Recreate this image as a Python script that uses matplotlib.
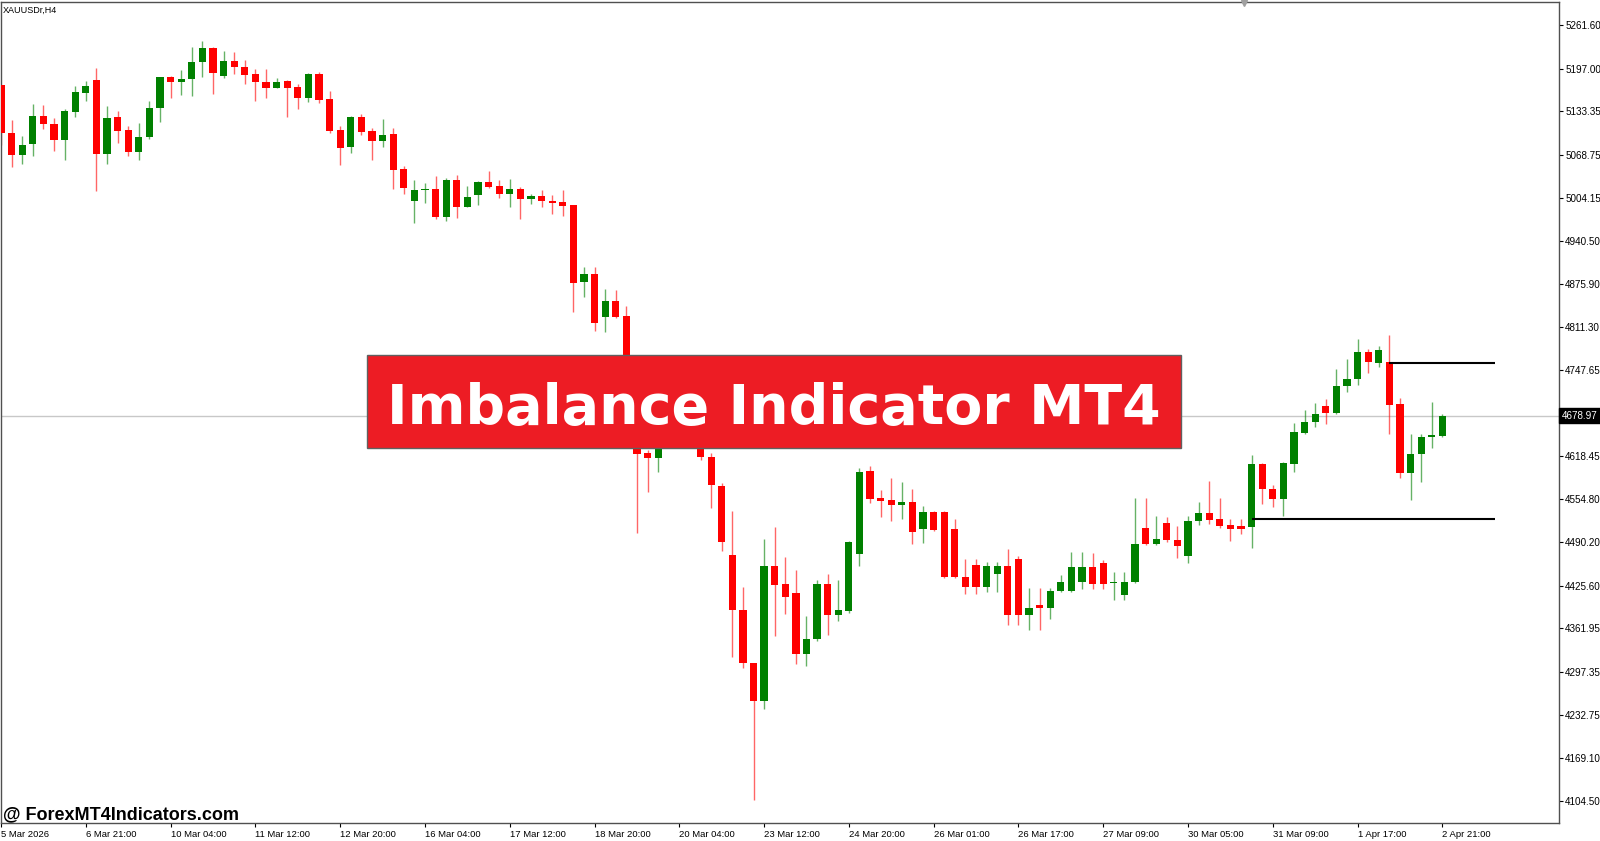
import matplotlib
matplotlib.use("Agg")
import matplotlib.pyplot as plt
import matplotlib.transforms as mtransforms
from matplotlib.patches import Rectangle

plt.rcParams['font.family'] = ['Liberation Sans', 'DejaVu Sans']

symbol = "XAUUSDr,H4"
title = "Imbalance Indicator MT4"
watermark = "@ ForexMT4Indicators.com"

# H4 candles (oldest first)
opens = [5172.1, 5101.6, 5068.8, 5084.2, 5127.0, 5115.0, 5090.1, 5132.9, 5160.7, 5180.6,
         5069.7, 5124.9, 5105.0, 5072.7, 5094.6, 5138.9, 5184.1, 5177.7, 5181.1, 5206.4,
         5227.8, 5186.6, 5209.0, 5199.0, 5188.5, 5177.7, 5168.7, 5178.5, 5169.2, 5153.8,
         5188.5, 5151.7, 5105.0, 5080.1, 5124.9, 5103.5, 5089.0, 5099.1, 5046.9, 4999.6,
         5015.6, 5017.1, 4974.9, 5030.5, 4990.7, 5008.1, 5027.9, 5021.6, 5009.2, 5017.1,
         5003.2, 5006.6, 5000.2, 4997.7, 4993.2, 4878.4, 4890.3, 4826.5, 4850.1, 4827.7,
         4745.0, 4623.9, 4615.5, 4700.0, 4740.0, 4715.0, 4690.0, 4617.0, 4574.7, 4470.9,
         4389.3, 4310.7, 4254.1, 4454.9, 4427.6, 4414.2, 4323.7, 4346.1, 4427.6, 4381.9,
         4388.3, 4473.4, 4596.6, 4555.9, 4552.9, 4546.4, 4550.8, 4510.5, 4535.9, 4535.9,
         4509.7, 4438.9, 4456.9, 4424.0, 4443.4, 4454.9, 4465.8, 4381.9, 4396.8, 4391.9,
         4418.1, 4418.1, 4431.5, 4453.9, 4458.9, 4429.0, 4411.9, 4431.0, 4511.6, 4487.7,
         4519.0, 4493.7, 4469.8, 4522.0, 4533.9, 4525.0, 4516.0, 4514.6, 4513.1, 4607.0,
         4569.7, 4554.8, 4607.0, 4653.2, 4669.6, 4693.5, 4683.0, 4723.3, 4733.7, 4774.0,
         4757.6, 4759.1, 4696.5, 4593.6, 4621.9, 4647.2, 4648.7]
highs = [5172.1, 5119.9, 5096.1, 5143.8, 5142.3, 5123.4, 5136.3, 5171.7, 5178.1, 5198.5,
         5140.8, 5133.8, 5112.0, 5115.9, 5148.3, 5184.5, 5186.6, 5194.9, 5228.8, 5238.8,
         5229.0, 5222.8, 5221.3, 5210.5, 5196.0, 5196.0, 5183.6, 5180.6, 5174.7, 5190.5,
         5192.0, 5163.6, 5112.0, 5125.9, 5128.9, 5108.0, 5122.5, 5108.5, 5051.8, 5031.5,
         5026.5, 5036.4, 5034.5, 5037.9, 5021.6, 5029.0, 5044.4, 5030.5, 5032.0, 5020.5,
         5009.6, 5016.6, 5008.1, 5016.6, 4993.2, 4900.3, 4900.3, 4867.5, 4866.5, 4842.6,
         4752.0, 4628.0, 4715.0, 4760.0, 4755.0, 4725.0, 4700.0, 4622.9, 4579.1, 4537.4,
         4423.1, 4310.7, 4494.7, 4513.5, 4467.9, 4448.9, 4380.4, 4434.0, 4442.5, 4434.0,
         4492.2, 4600.6, 4604.0, 4568.2, 4586.6, 4579.7, 4569.7, 4544.8, 4536.5, 4536.5,
         4525.0, 4465.4, 4465.4, 4460.9, 4460.9, 4479.8, 4469.8, 4421.7, 4421.7, 4422.6,
         4441.5, 4475.3, 4475.3, 4473.8, 4463.9, 4446.0, 4446.0, 4556.3, 4556.3, 4529.5,
         4528.0, 4514.6, 4529.5, 4550.3, 4581.7, 4557.0, 4525.0, 4525.0, 4620.4, 4608.5,
         4575.7, 4610.0, 4668.1, 4687.5, 4697.9, 4703.9, 4748.7, 4763.6, 4793.4, 4778.5,
         4783.0, 4799.4, 4705.4, 4651.7, 4651.7, 4699.5, 4681.5]
lows = [5082.7, 5050.3, 5054.3, 5066.3, 5107.6, 5074.2, 5061.3, 5124.9, 5148.7, 5014.1,
        5054.3, 5086.1, 5066.3, 5060.3, 5092.1, 5117.4, 5153.8, 5157.7, 5155.7, 5184.1,
        5159.8, 5183.6, 5189.6, 5174.7, 5148.3, 5153.8, 5167.5, 5124.9, 5136.3, 5147.2,
        5145.7, 5101.6, 5053.9, 5071.8, 5097.6, 5060.3, 5080.1, 5018.1, 5009.2, 4967.4,
        4996.6, 4972.3, 4969.8, 4973.4, 4989.8, 4994.2, 5019.5, 5004.1, 4990.7, 4972.8,
        4995.7, 4990.7, 4980.8, 4977.2, 4834.1, 4855.6, 4805.8, 4804.3, 4825.0, 4735.0,
        4503.6, 4565.7, 4595.5, 4690.0, 4705.0, 4680.0, 4613.0, 4540.9, 4477.7, 4319.7,
        4302.4, 4106.0, 4241.3, 4350.5, 4383.4, 4308.3, 4306.2, 4343.5, 4352.0, 4372.9,
        4384.4, 4455.0, 4549.3, 4527.6, 4521.6, 4524.6, 4487.3, 4488.7, 4507.1, 4437.0,
        4437.0, 4412.7, 4412.7, 4416.6, 4416.6, 4366.9, 4366.9, 4359.5, 4359.5, 4375.5,
        4416.6, 4417.0, 4420.6, 4420.6, 4420.6, 4404.5, 4404.5, 4429.6, 4486.2, 4486.5,
        4490.7, 4466.8, 4459.4, 4516.0, 4517.5, 4511.6, 4492.2, 4502.6, 4481.8, 4547.3,
        4542.9, 4529.5, 4595.1, 4652.0, 4662.2, 4666.7, 4682.0, 4714.4, 4724.8, 4742.7,
        4751.6, 4651.7, 4586.1, 4553.3, 4580.2, 4630.9, 4647.0]
closes = [5101.0, 5067.8, 5082.7, 5127.0, 5114.0, 5090.1, 5133.8, 5161.7, 5171.7, 5069.7,
          5124.0, 5104.0, 5072.7, 5095.6, 5138.9, 5184.1, 5177.7, 5182.1, 5206.9, 5227.8,
          5190.5, 5209.0, 5199.4, 5188.1, 5177.1, 5168.7, 5176.6, 5167.7, 5153.8, 5188.5,
          5150.8, 5104.0, 5079.2, 5124.9, 5102.5, 5089.0, 5098.6, 5046.4, 5019.0, 5016.6,
          5017.1, 4974.9, 5030.5, 4990.7, 5004.7, 5027.9, 5020.5, 5009.2, 5017.1, 5002.2,
          5006.6, 4999.2, 4996.6, 4992.2, 4877.3, 4890.3, 4817.7, 4850.1, 4826.5, 4745.0,
          4621.9, 4615.5, 4700.0, 4740.0, 4715.0, 4690.0, 4617.5, 4575.2, 4491.2, 4389.3,
          4310.7, 4254.1, 4454.9, 4426.6, 4408.3, 4323.7, 4346.1, 4427.6, 4381.9, 4389.3,
          4491.2, 4595.1, 4555.3, 4552.3, 4546.4, 4550.8, 4506.0, 4535.9, 4508.6, 4438.9,
          4438.9, 4424.0, 4424.0, 4454.9, 4454.9, 4381.9, 4381.9, 4391.9, 4391.9, 4418.1,
          4431.5, 4453.9, 4453.9, 4428.1, 4428.1, 4431.0, 4431.0, 4487.7, 4487.7, 4495.2,
          4493.7, 4484.8, 4522.0, 4533.9, 4523.5, 4514.6, 4510.1, 4510.1, 4607.0, 4569.7,
          4554.8, 4608.5, 4654.7, 4669.6, 4681.5, 4683.0, 4723.3, 4733.7, 4774.0, 4759.1,
          4777.0, 4695.0, 4593.6, 4621.9, 4647.2, 4650.2, 4678.97]

# time axis labels (every 8th bar)
time_labels = ["5 Mar 2026", "6 Mar 21:00", "10 Mar 04:00", "11 Mar 12:00", "12 Mar 20:00",
               "16 Mar 04:00", "17 Mar 12:00", "18 Mar 20:00", "20 Mar 04:00", "23 Mar 12:00",
               "24 Mar 20:00", "26 Mar 01:00", "26 Mar 17:00", "27 Mar 09:00", "30 Mar 05:00",
               "31 Mar 09:00", "1 Apr 17:00", "2 Apr 21:00"]
label_step = 8

price_ticks = [5261.60, 5197.00, 5133.35, 5068.75, 5004.15, 4940.50, 4875.90, 4811.30,
               4747.65, 4618.45, 4554.80, 4490.20, 4425.60, 4361.95, 4297.35, 4232.75,
               4169.10, 4104.50]
current_price = 4678.97

# imbalance zone levels: (start bar, price)
zone_upper = (131, 4758.0)
zone_lower = (118, 4525.0)
zone_end = 141

GREEN = "#008000"
RED = "#FF0000"

fig = plt.figure(figsize=(16, 8.41), dpi=100)
ax = fig.add_axes([1 / 1600, 1 - 823 / 841, 1558 / 1600, 821 / 841])

n = len(opens)
xs = list(range(n))
cols = [GREEN if c >= o else RED for o, c in zip(opens, closes)]

ax.vlines(xs, lows, highs, colors=cols, linewidth=1.0, alpha=0.6, zorder=2)
bottoms = [min(o, c) for o, c in zip(opens, closes)]
heights = [max(abs(c - o), 1.6) for o, c in zip(opens, closes)]
ax.bar(xs, heights, bottom=bottoms, width=0.68, color=cols, linewidth=0, zorder=3)

ax.axhline(current_price, color="#C8C8C8", linewidth=1.0, zorder=1)

for start, level in (zone_upper, zone_lower):
    ax.hlines(level, start, zone_end, color="black", linewidth=1.5, zorder=4)

ax.set_xlim(0, 147)
ax.set_ylim(4071.7, 5296.3)

ax.yaxis.tick_right()
ax.set_yticks(price_ticks)
ax.set_yticklabels([f"{v:.2f}" for v in price_ticks])
ax.tick_params(axis="y", direction="out", length=3, width=0.8, pad=1.5,
               labelsize=7.1, colors="black")

ax.set_xticks(range(0, len(time_labels) * label_step, label_step))
ax.set_xticklabels(time_labels)
ax.tick_params(axis="x", direction="out", length=3, width=0.8, pad=2,
               labelsize=6.8, colors="black")
for lab in ax.get_xticklabels():
    lab.set_horizontalalignment("left")

for sp in ax.spines.values():
    sp.set_color("#505050")
    sp.set_linewidth(1.0)

# current price tag on the price scale
trans = mtransforms.blended_transform_factory(ax.transAxes, ax.transData)
ax.text(1.0015, current_price, f"{current_price:.2f}", transform=trans, ha="left",
        va="center", fontsize=7.1, color="white", zorder=6, clip_on=False,
        bbox=dict(boxstyle="square,pad=0.25", fc="black", ec="black"))

# chart shift marker
ax.plot([0.798], [0.999], marker="v", markersize=5, color="#A0A0A0",
        transform=ax.transAxes, clip_on=False, zorder=6)

fig.text(3 / 1600, 1 - 12.7 / 841, symbol, fontsize=6.5, color="black",
         ha="left", va="baseline")

# banner
fig.patches.append(Rectangle((367 / 1600, 1 - 447.7 / 841), 814 / 1600, 92.7 / 841,
                             transform=fig.transFigure, facecolor="#ED1C24",
                             edgecolor="#606060", linewidth=1.0, zorder=10))
fig.text(774 / 1600, 1 - 424 / 841, title, fontsize=40, fontweight="bold",
         family=["DejaVu Sans"], color="white", ha="center", va="baseline", zorder=11)

fig.text(3 / 1600, 1 - 819 / 841, watermark, fontsize=13, fontweight="bold",
         color="black", ha="left", va="baseline", zorder=11)

fig.savefig("out.png", dpi=100, facecolor="white")
